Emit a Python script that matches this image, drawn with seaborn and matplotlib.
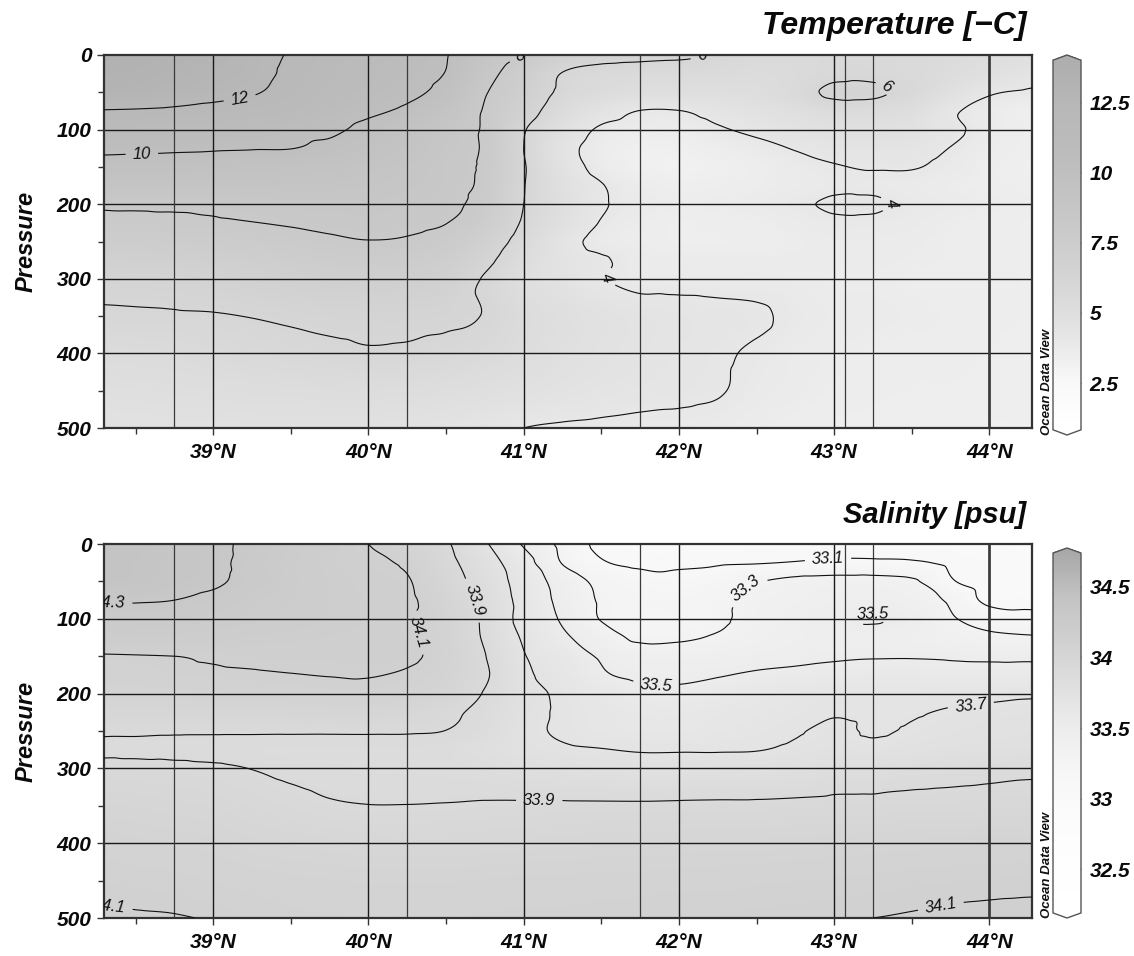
import numpy as np
import matplotlib
matplotlib.use("Agg")
import matplotlib.pyplot as plt
import matplotlib.tri as mtri
from matplotlib.colors import Normalize
from matplotlib.cm import ScalarMappable
import seaborn as sns

# ---------------- data ----------------
lats = [38.25, 38.5, 38.75, 39.0, 39.25, 39.5, 39.75, 40.0, 40.25, 40.5, 40.75, 41.0, 41.25,
        41.5, 41.75, 42.0, 42.25, 42.5, 42.75, 43.0, 43.25, 43.5, 43.75, 44.0, 44.25, 44.5]
depths = [0, 25, 50, 75, 100, 125, 150, 175, 200, 225, 250, 275, 300, 350, 400, 450, 500]

temperature = [
    [13.4, 13.3, 13.1, 12.8, 12.45, 11.9, 11.4, 10.9, 10.5, 10.05, 8.9, 7.95, 6.9, 6.5, 6.35, 6.2, 5.85, 5.6, 5.5, 5.6, 5.6, 5.5, 5.3, 5.1, 4.9, 4.8],
    [13.2, 13.1, 12.9, 12.65, 12.4, 11.75, 11.2, 10.8, 10.4, 9.95, 8.5, 7.2, 5.95, 5.55, 5.45, 5.45, 5.4, 5.3, 5.4, 5.7, 5.7, 5.5, 5.2, 4.8, 4.4, 4.2],
    [12.9, 12.8, 12.6, 12.4, 12.1, 11.6, 11.0, 10.6, 10.25, 9.6, 8.1, 7.0, 5.75, 5.3, 5.0, 4.95, 4.95, 5.1, 5.5, 6.25, 6.25, 5.6, 4.8, 4.1, 3.9, 3.8],
    [11.95, 11.9, 11.8, 11.6, 11.4, 11.1, 10.6, 10.2, 9.8, 9.0, 7.9, 6.6, 5.3, 4.5, 3.98, 3.98, 4.3, 4.6, 4.9, 5.3, 5.3, 5.0, 4.15, 3.7, 3.4, 3.3],
    [11.0, 10.95, 10.9, 10.8, 10.6, 10.35, 10.2, 9.7, 9.2, 8.6, 7.85, 6.1, 4.8, 3.85, 3.6, 3.6, 3.9, 4.2, 4.5, 4.7, 4.8, 4.6, 4.2, 3.7, 3.45, 3.4],
    [10.25, 10.2, 10.15, 10.1, 10.05, 10.02, 9.75, 9.4, 9.0, 8.45, 7.85, 6.0, 4.45, 3.6, 3.3, 3.3, 3.5, 3.75, 4.05, 4.3, 4.35, 4.3, 3.98, 3.6, 3.4, 3.35],
    [9.6, 9.6, 9.55, 9.5, 9.4, 9.3, 9.15, 8.95, 8.7, 8.3, 7.8, 6.1, 4.6, 3.7, 3.3, 3.2, 3.3, 3.5, 3.75, 3.95, 4.05, 4.05, 3.8, 3.5, 3.35, 3.3],
    [8.9, 8.9, 8.85, 8.85, 8.85, 8.85, 8.8, 8.7, 8.55, 8.3, 7.75, 6.05, 4.8, 4.05, 3.6, 3.4, 3.45, 3.55, 3.7, 3.85, 3.85, 3.75, 3.6, 3.5, 3.4, 3.4],
    [8.15, 8.15, 8.15, 8.2, 8.3, 8.4, 8.45, 8.45, 8.35, 8.2, 7.6, 6.0, 4.9, 4.1, 3.75, 3.55, 3.6, 3.7, 3.85, 4.12, 4.12, 3.85, 3.7, 3.6, 3.5, 3.45],
    [7.75, 7.8, 7.85, 7.9, 7.98, 8.08, 8.2, 8.25, 8.2, 8.02, 7.3, 5.85, 4.75, 3.95, 3.6, 3.45, 3.5, 3.55, 3.7, 3.85, 3.85, 3.75, 3.6, 3.5, 3.45, 3.4],
    [7.35, 7.4, 7.45, 7.5, 7.6, 7.7, 7.85, 7.97, 7.9, 7.6, 6.8, 5.5, 4.4, 3.75, 3.55, 3.45, 3.45, 3.5, 3.6, 3.7, 3.7, 3.65, 3.55, 3.5, 3.45, 3.4],
    [6.85, 6.9, 6.95, 7.05, 7.15, 7.3, 7.45, 7.5, 7.45, 7.2, 6.3, 5.2, 4.45, 4.1, 3.7, 3.65, 3.65, 3.65, 3.65, 3.65, 3.65, 3.6, 3.55, 3.5, 3.45, 3.4],
    [6.35, 6.4, 6.45, 6.6, 6.75, 6.9, 7.0, 7.05, 7.0, 6.8, 5.9, 5.0, 4.5, 4.05, 3.75, 3.75, 3.75, 3.75, 3.7, 3.6, 3.6, 3.55, 3.5, 3.5, 3.45, 3.4],
    [5.85, 5.88, 5.91, 5.94, 6.03, 6.15, 6.25, 6.3, 6.3, 6.2, 5.95, 5.3, 4.9, 4.6, 4.4, 4.3, 4.2, 4.1, 3.85, 3.7, 3.65, 3.6, 3.55, 3.5, 3.45, 3.4],
    [5.3, 5.35, 5.4, 5.5, 5.6, 5.7, 5.8, 5.9, 5.85, 5.7, 5.5, 5.15, 4.8, 4.55, 4.4, 4.25, 4.1, 3.9, 3.7, 3.6, 3.55, 3.5, 3.5, 3.45, 3.4, 3.4],
    [4.9, 4.95, 5.0, 5.05, 5.1, 5.15, 5.2, 5.2, 5.15, 5.05, 4.9, 4.7, 4.5, 4.35, 4.25, 4.15, 4.05, 3.8, 3.65, 3.55, 3.5, 3.45, 3.45, 3.4, 3.4, 3.35],
    [4.6, 4.6, 4.65, 4.65, 4.7, 4.7, 4.7, 4.7, 4.6, 4.45, 4.25, 4.0, 3.9, 3.85, 3.8, 3.8, 3.75, 3.6, 3.5, 3.45, 3.4, 3.4, 3.4, 3.35, 3.35, 3.3],
]

salinity = [
    [34.42, 34.4, 34.37, 34.33, 34.27, 34.22, 34.17, 34.1, 34.02, 33.92, 33.72, 33.48, 33.25, 33.05, 33.0, 32.98, 32.98, 33.0, 33.02, 33.03, 33.03, 33.02, 33.0, 32.95, 32.93, 32.92],
    [34.41, 34.39, 34.36, 34.33, 34.26, 34.21, 34.16, 34.12, 34.08, 33.95, 33.78, 33.58, 33.29, 33.12, 33.06, 33.07, 33.08, 33.09, 33.11, 33.13, 33.13, 33.12, 33.07, 33.02, 32.99, 32.98],
    [34.4, 34.38, 34.35, 34.32, 34.26, 34.21, 34.17, 34.14, 34.11, 33.98, 33.82, 33.62, 33.42, 33.25, 33.18, 33.15, 33.2, 33.29, 33.35, 33.37, 33.37, 33.33, 33.12, 33.02, 32.99, 32.98],
    [34.31, 34.31, 34.3, 34.27, 34.23, 34.2, 34.17, 34.15, 34.12, 34.02, 33.85, 33.64, 33.45, 33.28, 33.22, 33.22, 33.26, 33.34, 33.39, 33.42, 33.43, 33.4, 33.27, 33.05, 33.03, 33.02],
    [34.25, 34.25, 34.24, 34.23, 34.21, 34.19, 34.17, 34.15, 34.11, 34.03, 33.87, 33.64, 33.48, 33.29, 33.22, 33.22, 33.27, 33.36, 33.42, 33.46, 33.51, 33.46, 33.32, 33.22, 33.18, 33.17],
    [34.2, 34.2, 34.19, 34.18, 34.17, 34.16, 34.15, 34.14, 34.12, 34.04, 33.88, 33.68, 33.53, 33.4, 33.26, 33.27, 33.32, 33.38, 33.42, 33.44, 33.45, 33.42, 33.38, 33.34, 33.32, 33.31],
    [34.09, 34.095, 34.1, 34.115, 34.125, 34.13, 34.13, 34.13, 34.12, 34.05, 33.905, 33.71, 33.6, 33.48, 33.42, 33.41, 33.42, 33.44, 33.46, 33.48, 33.49, 33.49, 33.48, 33.47, 33.47, 33.47],
    [34.07, 34.075, 34.08, 34.085, 34.09, 34.097, 34.103, 34.105, 34.085, 34.03, 33.92, 33.73, 33.64, 33.52, 33.47, 33.47, 33.49, 33.52, 33.54, 33.56, 33.57, 33.57, 33.56, 33.56, 33.56, 33.56],
    [34.04, 34.045, 34.05, 34.055, 34.06, 34.065, 34.07, 34.07, 34.05, 34.0, 33.89, 33.76, 33.67, 33.6, 33.54, 33.53, 33.56, 33.6, 33.63, 33.65, 33.65, 33.65, 33.66, 33.67, 33.68, 33.68],
    [33.98, 33.98, 33.985, 33.99, 33.99, 33.995, 34.0, 34.0, 33.98, 33.93, 33.86, 33.75, 33.68, 33.63, 33.6, 33.6, 33.62, 33.64, 33.66, 33.69, 33.68, 33.69, 33.71, 33.72, 33.73, 33.73],
    [33.915, 33.915, 33.912, 33.912, 33.912, 33.912, 33.912, 33.912, 33.91, 33.898, 33.85, 33.74, 33.68, 33.64, 33.62, 33.62, 33.64, 33.66, 33.69, 33.72, 33.69, 33.71, 33.73, 33.75, 33.76, 33.76],
    [33.88, 33.88, 33.875, 33.87, 33.865, 33.86, 33.86, 33.86, 33.86, 33.85, 33.8, 33.75, 33.72, 33.705, 33.69, 33.69, 33.69, 33.695, 33.72, 33.74, 33.73, 33.75, 33.77, 33.78, 33.79, 33.79],
    [33.935, 33.93, 33.925, 33.915, 33.898, 33.88, 33.87, 33.86, 33.86, 33.855, 33.84, 33.81, 33.79, 33.77, 33.76, 33.76, 33.77, 33.78, 33.79, 33.82, 33.82, 33.84, 33.85, 33.86, 33.87, 33.87],
    [34.0, 33.99, 33.98, 33.97, 33.95, 33.93, 33.91, 33.902, 33.902, 33.905, 33.91, 33.912, 33.915, 33.915, 33.915, 33.918, 33.92, 33.92, 33.925, 33.93, 33.93, 33.935, 33.94, 33.945, 33.95, 33.95],
    [34.05, 34.04, 34.03, 34.02, 34.0, 33.99, 33.98, 33.97, 33.97, 33.97, 33.975, 33.98, 33.985, 33.99, 33.99, 33.995, 34.0, 34.0, 34.005, 34.01, 34.015, 34.02, 34.025, 34.03, 34.03, 34.03],
    [34.08, 34.075, 34.07, 34.06, 34.05, 34.04, 34.035, 34.03, 34.03, 34.03, 34.035, 34.04, 34.04, 34.045, 34.045, 34.05, 34.05, 34.055, 34.06, 34.065, 34.07, 34.075, 34.08, 34.083, 34.085, 34.085],
    [34.11, 34.107, 34.104, 34.095, 34.08, 34.07, 34.065, 34.06, 34.06, 34.06, 34.065, 34.07, 34.07, 34.075, 34.08, 34.08, 34.085, 34.09, 34.093, 34.097, 34.1, 34.105, 34.11, 34.113, 34.115, 34.115],
]

temp_levels = [4, 6, 8, 10, 12]
sal_levels = [33.1, 33.3, 33.5, 33.7, 33.9, 34.1, 34.3]
temp_ticks = [2.5, 5, 7.5, 10, 12.5]
sal_ticks = [32.5, 33, 33.5, 34, 34.5]
station_lats = [38.75, 40.25, 41.75, 43.07, 43.25, 44.0]
lat_ticks = [39, 40, 41, 42, 43, 44]
pressure_ticks = [0, 100, 200, 300, 400, 500]

# ---------------- style ----------------
sns.set_theme(style="white")
plt.rcParams["font.family"] = ["Liberation Sans", "DejaVu Sans"]
plt.rcParams["font.weight"] = "bold"
plt.rcParams["font.style"] = "italic"
plt.rcParams["text.color"] = "#0a0a0a"

temp_cmap = sns.blend_palette(["#ffffff", "#f9f9f9", "#e6e6e6", "#d8d8d8", "#cdcdcd",
                               "#c4c4c4", "#bcbcbc", "#b8b8b8", "#aeaeae"], as_cmap=True)
sal_cmap = sns.blend_palette(["#ffffff", "#fefefe", "#fcfcfc", "#f7f7f7", "#eeeeee",
                              "#e0e0e0", "#d1d1d1", "#c4c4c4", "#a9a9a9"], as_cmap=True)

W, H = 1134, 956
fig = plt.figure(figsize=(W / 100, H / 100), dpi=100)

XLIM = (38.296, 44.275)
SX, SY = 155.3, 0.746   # pixel-like scaling for the smooth gridding


def smooth(values):
    Z = np.asarray(values, float)
    LA, DE = np.meshgrid(lats, depths)
    tri = mtri.Triangulation(LA.ravel() * SX, DE.ravel() * SY)
    interp = mtri.CubicTriInterpolator(tri, Z.ravel(), kind="geom")
    fx = np.linspace(XLIM[0], XLIM[1], 760)
    fy = np.linspace(0.01, 499.99, 420)
    FX, FY = np.meshgrid(fx, fy)
    F = interp(FX * SX, FY * SY)
    F = np.ma.filled(F, np.nan)
    return fx, fy, FX, FY, F


def px_axes(left, top, right, bottom):
    return [left / W, 1 - bottom / H, (right - left) / W, (bottom - top) / H]


def panel(ax_rect, cax_rect, values, levels, cmap, vmin, vmax, ticks, fmt,
          label_pos, title, title_size, title_base, odv_bottom):
    ax = fig.add_axes(px_axes(*ax_rect))
    fx, fy, FX, FY, F = smooth(values)
    ax.imshow(F, extent=[fx[0], fx[-1], fy[-1], fy[0]], origin="upper", aspect="auto",
              cmap=cmap, vmin=vmin, vmax=vmax, interpolation="bilinear", zorder=0)
    for y in [100, 200, 300, 400]:
        ax.axhline(y, color="#1a1a1a", lw=1.0, zorder=2)
    for x in lat_ticks:
        ax.axvline(x, color="#1a1a1a", lw=1.0, zorder=2)
    for x in station_lats:
        ax.axvline(x, color="#3a3a3a", lw=0.9 if x != 44.0 else 1.9, zorder=2)
    cs = ax.contour(FX, FY, F, levels=levels, colors="#111111", linewidths=0.8, zorder=3)
    texts = ax.clabel(cs, levels, fmt=fmt, manual=label_pos, inline=True,
                      inline_spacing=7, fontsize=12)
    for t in texts:
        t.set_fontweight("normal")
        t.set_fontstyle("italic")
        t.set_color("#111111")
        t.set_clip_on(True)
    ax.set_xlim(*XLIM)
    ax.set_ylim(500, 0)
    ax.set_yticks(pressure_ticks)
    ax.set_yticks([50, 150, 250, 350, 450], minor=True)
    ax.set_xticks(lat_ticks)
    ax.set_xticklabels([f"{v}°N" for v in lat_ticks])
    ax.set_xticks([38.5, 39.5, 40.5, 41.5, 42.5, 43.5], minor=True)
    ax.tick_params(which="both", direction="out", color="#333333", width=1.0,
                   labelsize=15, left=True, bottom=True, labelcolor="#0a0a0a")
    ax.tick_params(which="major", length=5, pad=4)
    ax.tick_params(axis="x", which="major", pad=6)
    ax.tick_params(which="minor", length=4)
    for s in ax.spines.values():
        s.set_color("#333333")
        s.set_linewidth(1.6)
    ax.set_ylabel("Pressure", fontsize=17, fontweight="bold", fontstyle="italic",
                  color="#0a0a0a")
    ax.yaxis.set_label_coords((38 - ax_rect[0]) / (ax_rect[2] - ax_rect[0]), 0.5)
    ax.grid(False)

    cax = fig.add_axes(px_axes(*cax_rect))
    sm = ScalarMappable(norm=Normalize(vmin, vmax), cmap=cmap)
    cb = fig.colorbar(sm, cax=cax, extend="both", extendfrac=0.014, ticks=ticks)
    cb.ax.set_yticklabels([f"{t:g}" for t in ticks])
    cb.outline.set_edgecolor("#555555")
    cb.outline.set_linewidth(1.0)
    cb.ax.tick_params(direction="in", length=7, width=1.0, left=True, right=True,
                      color="#333333", labelsize=15, pad=6, labelcolor="#0a0a0a")

    fig.text(1026 / W, 1 - title_base / H, title, ha="right", va="baseline",
             fontsize=title_size, fontweight="bold", fontstyle="italic", color="#0a0a0a")
    fig.text(1047 / W, 1 - odv_bottom / H, "Ocean Data View", rotation=90,
             ha="center", va="bottom", fontsize=9.5, fontweight="bold",
             fontstyle="italic", color="#111111")
    return ax


panel((104, 55, 1032, 428), (1053, 55, 1081, 435), temperature, temp_levels, temp_cmap,
      0.84, 13.99, temp_ticks, "%g",
      [(39.17, 58), (38.54, 132), (40.98, 3), (42.15, 2), (43.34, 42), (43.39, 196),
       (41.51, 301)],
      "Temperature [\u2212C]", 23, 34, 435)

panel((104, 544, 1032, 918), (1053, 548, 1081, 918), salinity, sal_levels, sal_cmap,
      32.19, 34.74, sal_ticks, "%.1f",
      [(38.33, 75), (40.32, 118), (40.68, 75), (41.1, 343), (38.33, 489), (42.96, 16),
       (42.42, 56), (43.25, 100), (41.85, 196), (43.88, 213), (43.69, 487)],
      "Salinity [psu]", 21, 523, 918)

fig.savefig("out.png", dpi=100)
